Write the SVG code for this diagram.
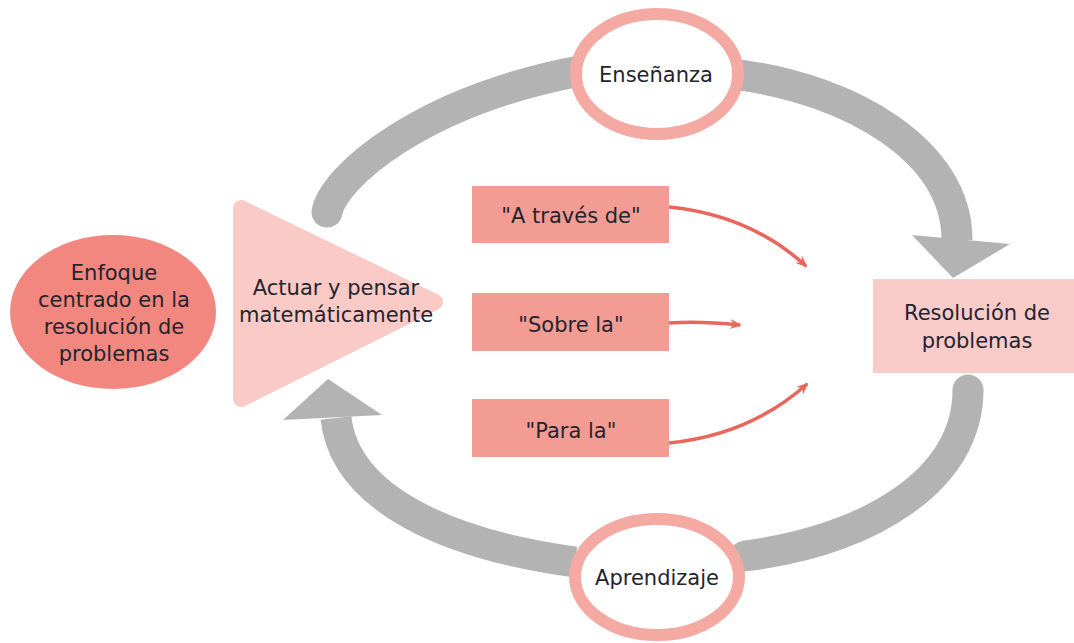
<svg xmlns="http://www.w3.org/2000/svg" width="1074" height="643" viewBox="0 0 1074 643">
<defs>
<style>
text{font-family:"DejaVu Sans","Liberation Sans",sans-serif;font-size:21px;fill:#24242e;text-anchor:middle}
.arc{fill:none;stroke:#b3b3b3;stroke-width:31}
.head{fill:#b3b3b3}
.ring{fill:#fff;stroke:#f4aaa3;stroke-width:12}
.box{fill:#f29c93}
.red{fill:none;stroke:#e8665b;stroke-width:3.5}
</style>
<marker id="barb" viewBox="0 0 12 12" refX="10" refY="6" markerWidth="12" markerHeight="12" markerUnits="userSpaceOnUse" orient="auto">
<path d="M0,1 L12,6 L0,11 L4,6 z" fill="#e8665b"/>
</marker>
</defs>
<g id="connectors">
<path class="arc" d="M 327 212 C 333 178, 420 100, 585 70" stroke-linecap="round"/>
<path class="arc" d="M 740 75 C 850 90, 957 150, 957 240"/>
<polygon class="head" points="912,235 1010,244 953,278"/>
<path class="arc" d="M 968 390 C 968 480, 870 540, 745 556" stroke-linecap="round"/>
<path class="arc" d="M 575 562 C 450 545, 345 500, 336 418"/>
<polygon class="head" points="283,420 382,415 328,379"/>
<path class="red" d="M 669 207 Q 750 215 806 266" marker-end="url(#barb)"/>
<path class="red" d="M 669 323 Q 700 321 740 325" marker-end="url(#barb)"/>
<path class="red" d="M 669 443 Q 750 435 807 384" marker-end="url(#barb)"/>
</g>
<g id="enfoque">
<ellipse cx="113" cy="312" rx="103" ry="77" fill="#f1877f"/>
<text x="114" y="280">Enfoque</text>
<text x="114" y="307">centrado en la</text>
<text x="114" y="334">resolución de</text>
<text x="114" y="361">problemas</text>
</g>
<g id="actuar">
<polygon points="241,208 241,399 435,302" fill="#f9cac6" stroke="#f9cac6" stroke-width="16" stroke-linejoin="round"/>
<text x="336" y="295">Actuar y pensar</text>
<text x="336" y="322">matemáticamente</text>
</g>
<g id="ensenanza">
<ellipse class="ring" cx="657" cy="74" rx="81" ry="60"/>
<text x="656" y="82">Enseñanza</text>
</g>
<g id="aprendizaje">
<ellipse class="ring" cx="657" cy="577" rx="82" ry="58"/>
<text x="657" y="585">Aprendizaje</text>
</g>
<g id="a-traves">
<rect class="box" x="472" y="186" width="197" height="57"/>
<text x="571" y="223">"A través de"</text>
</g>
<g id="sobre">
<rect class="box" x="472" y="293" width="197" height="58"/>
<text x="571" y="332">"Sobre la"</text>
</g>
<g id="para">
<rect class="box" x="472" y="399" width="197" height="58"/>
<text x="571" y="438">"Para la"</text>
</g>
<g id="resolucion">
<rect x="873" y="279" width="201" height="94" fill="#f9ccca"/>
<text x="977" y="320">Resolución de</text>
<text x="977" y="348">problemas</text>
</g>
</svg>
